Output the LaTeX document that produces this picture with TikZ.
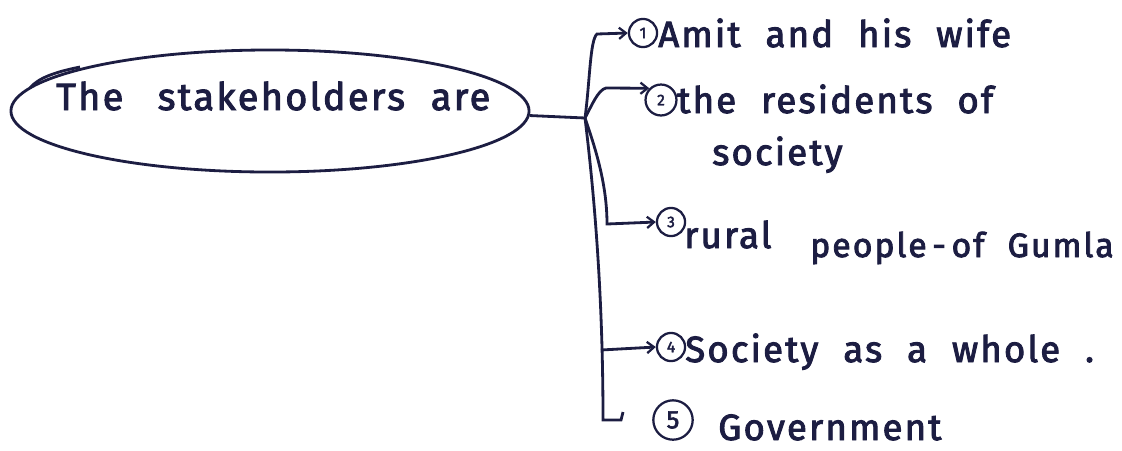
\documentclass[tikz,border=0pt]{standalone}
\usepackage{fontspec}
\setmainfont{Fira Sans}[LetterSpace=6, WordSpace=2.1, FakeBold=2.5]
\usetikzlibrary{arrows.meta,shapes.geometric}
\definecolor{ink}{HTML}{1C1D42}
\begin{document}
\begin{tikzpicture}[x=0.025cm,y=-0.025cm,
  lbl/.style={anchor=base west, inner sep=0pt, text=ink, font=\fontsize{26}{30}\selectfont},
  num/.style={circle, draw=ink, line width=1.6pt, inner sep=0pt, minimum size=#1, text=ink, font=\fontsize{11}{12}\selectfont},
  conn/.style={draw=ink, line width=2pt},
  tip/.style={-{Straight Barb[length=5pt,width=8pt,line width=1.6pt]}}]
\useasboundingbox (0,0) rectangle (1122,450);
% root ellipse
\node[ellipse, draw=ink, line width=2pt, minimum width=12.95cm, minimum height=3.05cm, inner sep=0pt] (root) at (270,111) {};
\node[lbl, font=\fontsize{27}{30}\selectfont] (roottext) at (56,110) {The\hspace{6pt} stakeholders are};
\draw[conn] (30,88) .. controls (38,78) and (55,72) .. (80,67);
% junction and trunk
\coordinate (J) at (585,118);
\coordinate (t4) at (601,350);
\coordinate (hook) at (623,412);
% numbers
\node[num=20pt] (n1) at (643,33) {1};
\node[num=22pt] (n2) at (661,100) {2};
\node[num=20pt] (n3) at (671,222) {3};
\node[num=20pt] (n4) at (671,347) {4};
\node[num=28pt, font=\fontsize{18}{20}\selectfont] (n5) at (673,420) {5};
% labels
\node[lbl] (l1) at (658,47) {Amit and his wife};
\node[lbl] (l2) at (677,113) {the residents of};
\node[lbl] (l2b) at (712,165) {society};
\node[lbl] (l3) at (684,248) {rural};
\node[lbl, font=\fontsize{24}{28}\selectfont] (l3b) at (810,257) {people\hspace{4pt}-\hspace{4pt}of Gumla};
\node[lbl] (l4) at (685,362) {Society as a whole .};
\node[lbl] (l5) at (718,440) {Government};
% connectors
\draw[conn] (root.-1.6) -- (J);
\draw[conn,tip] (J) .. controls (590,80) and (590,40) .. (597,34) -- (n1.west);
\draw[conn,tip] (J) .. controls (592,105) and (598,90) .. (606,88) -- (n2.135);
\draw[conn,tip] (J) .. controls (596,150) and (607,185) .. (607,224) -- (n3.west);
\draw[conn] (J) .. controls (595,200) and (603,300) .. (603,420) -- (621,420) -- (hook);
\draw[conn,tip] (t4) -- (n4.west);
\end{tikzpicture}
\end{document}
